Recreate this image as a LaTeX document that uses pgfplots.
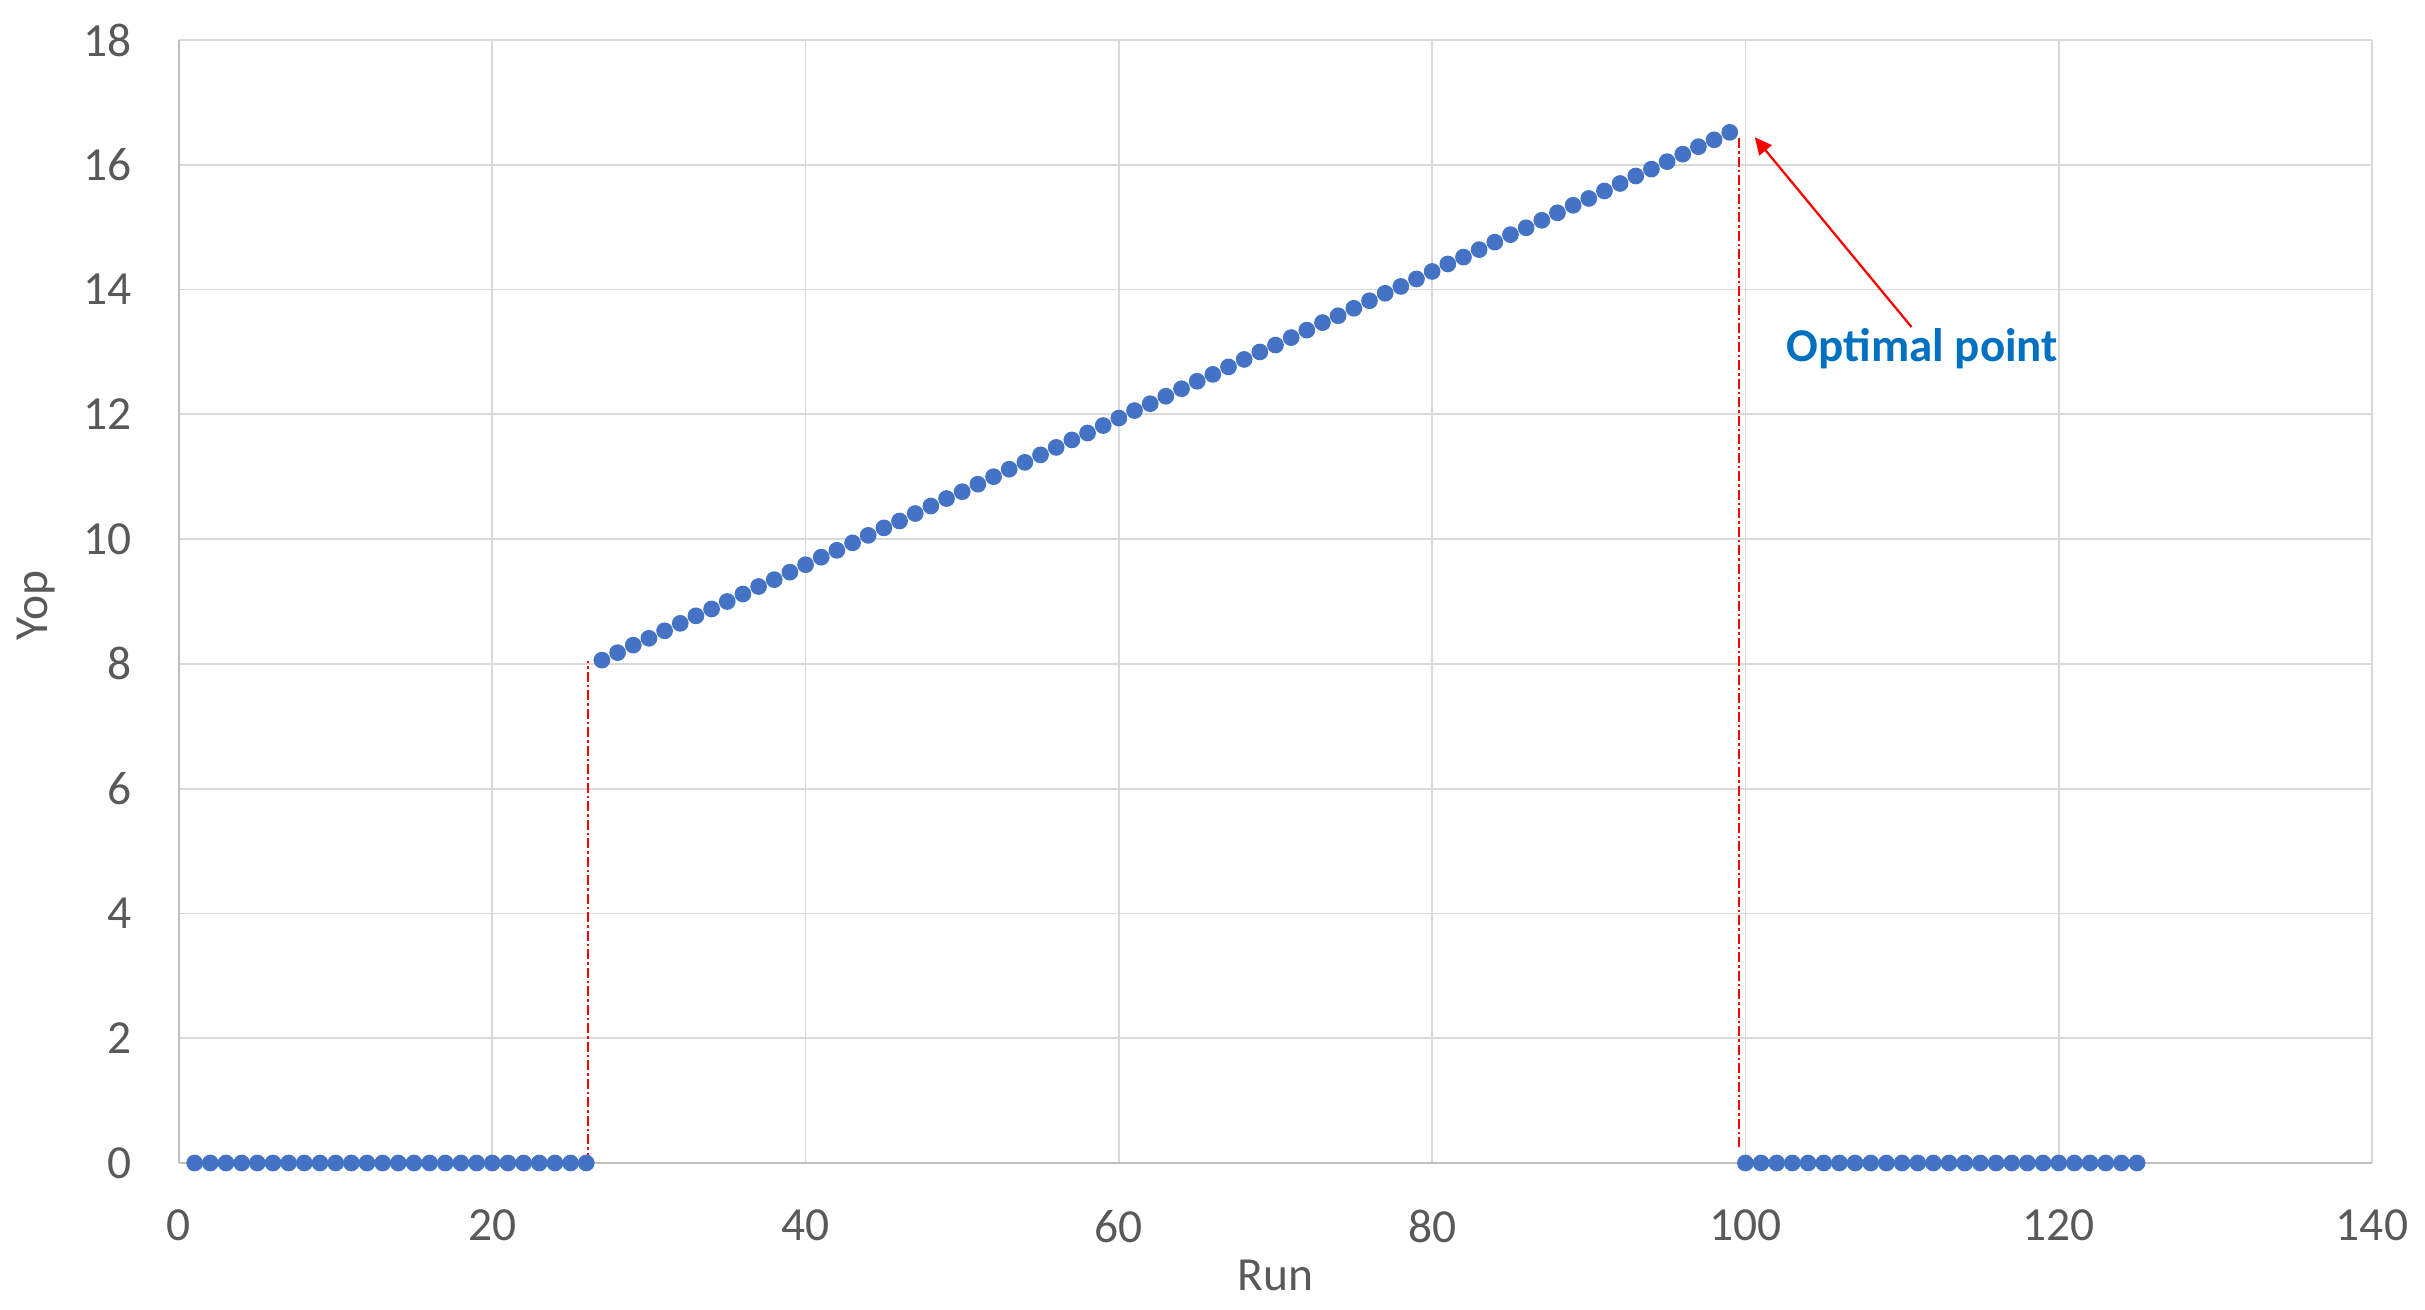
\documentclass[border=0pt]{standalone}
\usepackage{pgfplots}
\pgfplotsset{compat=1.18}
\usepackage{fontspec}
\setmainfont{Carlito}
\usetikzlibrary{arrows.meta}
\definecolor{markblue}{HTML}{4472C4}
\definecolor{txtgray}{HTML}{595959}
\definecolor{gridgray}{HTML}{D9D9D9}
\definecolor{axgray}{HTML}{BFBFBF}
\definecolor{annblue}{HTML}{0070C0}
\begin{document}
\begin{tikzpicture}
\begin{axis}[
  scale only axis,
  width=438.6pt, height=224.6pt,
  xmin=0, xmax=140, ymin=0, ymax=18,
  xtick={0,20,...,140}, ytick={0,2,...,18},
  axis x line=bottom, axis y line=left,
  axis line style={-, draw=axgray, line width=0.35pt},
  grid=major,
  major grid style={draw=gridgray, line width=0.35pt},
  major tick length=0pt,
  tick label style={font=\fontsize{9.5}{11}\selectfont, text=txtgray, inner sep=0pt},
  xticklabel style={anchor=north, yshift=-9.2pt},
  yticklabel style={anchor=east, xshift=-9.2pt},
  /pgf/number format/assume math mode=true,
  clip=false,
]
\draw[red, line width=0.4pt, dash pattern=on 2pt off 0.6pt on 0.5pt off 0.6pt] (axis cs:26.1,0) -- (axis cs:26.1,8.05);
\draw[red, line width=0.4pt, dash pattern=on 2pt off 0.6pt on 0.5pt off 0.6pt] (axis cs:99.6,0.25) -- (axis cs:99.6,16.47);
\addplot[only marks, mark=*, mark size=1.47pt, mark options={fill=markblue, draw=markblue}] coordinates {
(1,0)(2,0)(3,0)(4,0)(5,0)(6,0)(7,0)(8,0)(9,0)(10,0)(11,0)(12,0)(13,0)
(14,0)(15,0)(16,0)(17,0)(18,0)(19,0)(20,0)(21,0)(22,0)(23,0)(24,0)(25,0)(26,0)
(27,8.06)(28,8.18)(29,8.30)(30,8.41)(31,8.53)(32,8.65)(33,8.77)(34,8.88)(35,9.00)
(36,9.12)(37,9.24)(38,9.35)(39,9.47)(40,9.59)(41,9.71)(42,9.82)(43,9.94)(44,10.06)
(45,10.18)(46,10.29)(47,10.41)(48,10.53)(49,10.65)(50,10.76)(51,10.88)(52,11.00)
(53,11.12)(54,11.23)(55,11.35)(56,11.47)(57,11.59)(58,11.70)(59,11.82)(60,11.94)
(61,12.06)(62,12.17)(63,12.29)(64,12.41)(65,12.53)(66,12.64)(67,12.76)(68,12.88)
(69,13.00)(70,13.11)(71,13.23)(72,13.35)(73,13.47)(74,13.58)(75,13.70)(76,13.82)
(77,13.94)(78,14.05)(79,14.17)(80,14.29)(81,14.41)(82,14.52)(83,14.64)(84,14.76)
(85,14.88)(86,14.99)(87,15.11)(88,15.23)(89,15.35)(90,15.46)(91,15.58)(92,15.70)
(93,15.82)(94,15.93)(95,16.05)(96,16.17)(97,16.29)(98,16.40)(99,16.52)
(100,0)(101,0)(102,0)(103,0)(104,0)(105,0)(106,0)(107,0)(108,0)(109,0)(110,0)(111,0)(112,0)
(113,0)(114,0)(115,0)(116,0)(117,0)(118,0)(119,0)(120,0)(121,0)(122,0)(123,0)(124,0)(125,0)
};
\draw[red, line width=0.45pt, -{Triangle[length=3.4pt,width=3.2pt]}] (axis cs:110.6,13.4) -- (axis cs:100.6,16.44);
\node[anchor=base, inner sep=0pt, text=annblue, font=\fontsize{9.4}{11}\selectfont\bfseries] at (axis cs:111.3,12.84) {Optimal point};
\end{axis}
\node[anchor=base, inner sep=0pt, text=txtgray, font=\fontsize{9.5}{11}\selectfont] at ([yshift=-25.6pt]current axis.south) {Run};
\node[anchor=base, inner sep=0pt, rotate=90, text=txtgray, font=\fontsize{9.5}{11}\selectfont] at ([xshift=-26.3pt,yshift=-0.8pt]current axis.west) {Yop};
\pgfresetboundingbox
\path[use as bounding box] ([xshift=-35.8pt,yshift=-29.4pt]current axis.south west) rectangle ([xshift=10.6pt,yshift=8pt]current axis.north east);
\end{tikzpicture}
\end{document}
